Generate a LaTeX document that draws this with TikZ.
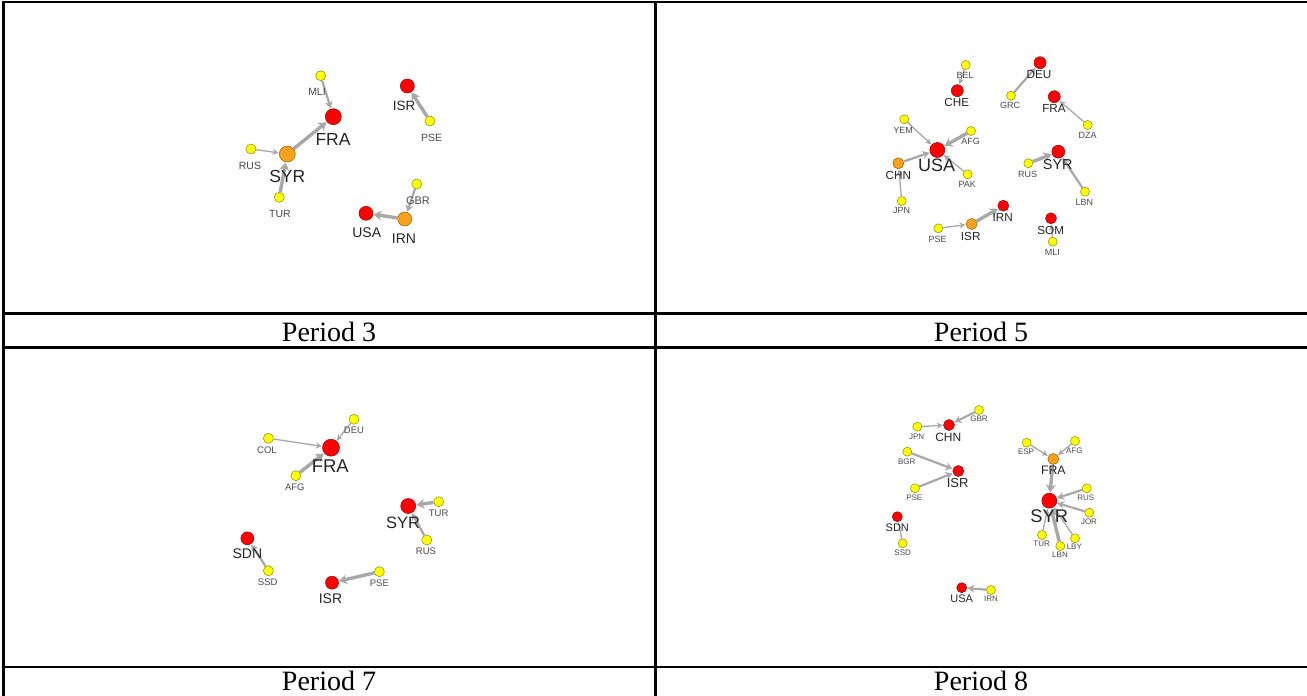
\documentclass[tikz,border=0pt]{standalone}
\usepackage{fontspec}
\setmainfont{Liberation Serif}
\newfontfamily\labfont{Liberation Sans}
\usetikzlibrary{arrows.meta}
\definecolor{nred}{HTML}{FF0000}
\definecolor{nredb}{HTML}{A00000}
\definecolor{nora}{HTML}{F7A11C}
\definecolor{norab}{HTML}{A06000}
\definecolor{nyel}{HTML}{FFFF00}
\definecolor{nyelb}{HTML}{8A8A00}
\definecolor{edg}{HTML}{A8A8A8}
\definecolor{labc}{HTML}{262626}
\definecolor{labs}{HTML}{4A4A4A}
\tikzset{
  nd/.style={circle,inner sep=0pt,line width=0.5pt},
  rd/.style={nd,fill=nred,draw=nredb,minimum size=#1},
  od/.style={nd,fill=nora,draw=norab,minimum size=#1},
  yd/.style={nd,fill=nyel,draw=nyelb,minimum size=#1},
  lab/.style={inner sep=0pt,text=labc,font={\labfont\fontsize{#1}{#1}\selectfont}},
  labsm/.style={inner sep=0pt,text=labs,font={\labfont\fontsize{#1}{#1}\selectfont}},
  ethin/.style={draw=edg,line width=1.3pt,-{Stealth[length=6pt,width=6pt]},shorten >=0.5pt},
  emid/.style={draw=edg,line width=2.2pt,-{Stealth[length=7pt,width=8pt]},shorten >=0.5pt},
  ethick/.style={draw=edg,line width=3.4pt,-{Stealth[length=8pt,width=10pt]},shorten >=0.5pt},
  tabline/.style={line width=2.2pt,black},
  captext/.style={anchor=base,inner sep=0pt,font={\fontsize{28}{28}\selectfont}}
}
\begin{document}
\begin{tikzpicture}[x=1pt,y=-1pt]
\useasboundingbox (0,0) rectangle (1307,696);
\fill[white] (0,0) rectangle (1307,696);
% table
\draw[tabline] (3.5,2) -- (1310,2);
\draw[tabline] (3.5,313.5) -- (1310,313.5);
\draw[tabline] (3.5,347.5) -- (1310,347.5);
\draw[tabline] (3.5,667) -- (1310,667);
\draw[tabline] (3.5,1) -- (3.5,700);
\draw[tabline] (655.5,1) -- (655.5,700);
\node[captext] (c3) at (329,341.5) {Period 3};
\node[captext] (c5) at (981,341.5) {Period 5};
\node[captext] (c7) at (329,690) {Period 7};
\node[captext] (c8) at (981,690) {Period 8};

% ---------- Period 3 ----------
\node[yd=10pt] (aMLI) at (320.7,75.7) {};
\node[rd=16pt] (aFRA) at (333.3,116.7) {};
\node[rd=14pt] (aISR) at (407.3,86) {};
\node[yd=10pt] (aPSE) at (430,121) {};
\node[yd=10pt] (aRUS) at (251,149) {};
\node[od=16pt] (aSYR) at (287.3,154) {};
\node[yd=10pt] (aTUR) at (279.3,197.3) {};
\node[yd=10pt] (aGBR) at (416.7,184) {};
\node[od=14pt] (aIRN) at (404.7,219) {};
\node[rd=14pt] (aUSA) at (366,213.3) {};
\draw[emid] (aMLI) -- (aFRA);
\draw[ethick] (aSYR) -- (aFRA);
\draw[ethin] (aRUS) -- (aSYR);
\draw[ethick] (aTUR) -- (aSYR);
\draw[ethick] (aPSE) -- (aISR);
\draw[emid] (aGBR) -- (aIRN);
\draw[ethick] (aIRN) -- (aUSA);
\node[labsm=10.5] (aMLIt) at (317,91.7) {MLI};
\node[lab=17.5] (aFRAt) at (333,139) {FRA};
\node[lab=13.5] (aISRt) at (404,106) {ISR};
\node[labsm=10.5] (aPSEt) at (431.7,138) {PSE};
\node[labsm=10.5] (aRUSt) at (250,166) {RUS};
\node[lab=17.5] (aSYRt) at (287.3,176) {SYR};
\node[labsm=10.5] (aTURt) at (280,214) {TUR};
\node[labsm=11] (aGBRt) at (418,201) {GBR};
\node[lab=14] (aIRNt) at (404,239) {IRN};
\node[lab=14] (aUSAt) at (366.7,233) {USA};

% ---------- Period 5 ----------
\node[yd=9pt] (bBEL) at (965.7,65) {};
\node[rd=12pt] (bCHE) at (957.3,90.7) {};
\node[rd=12pt] (bDEU) at (1040,62.7) {};
\node[yd=9pt] (bGRC) at (1011,95.7) {};
\node[rd=12pt] (bFRA) at (1054.3,96.7) {};
\node[yd=9pt] (bDZA) at (1087.7,125) {};
\node[yd=9pt] (bYEM) at (904.3,119.3) {};
\node[yd=9pt] (bAFG) at (971,131) {};
\node[rd=15pt] (bUSA) at (937.3,150) {};
\node[od=11pt] (bCHN) at (898.3,163.3) {};
\node[yd=9pt] (bPAK) at (967.7,174.3) {};
\node[yd=9pt] (bJPN) at (901.7,201) {};
\node[yd=9pt] (bRUS) at (1028.3,163.3) {};
\node[rd=13pt] (bSYR) at (1058.3,151.7) {};
\node[yd=9pt] (bLBN) at (1085,191.7) {};
\node[rd=11pt] (bIRN) at (1003.3,205.7) {};
\node[od=11pt] (bISR) at (971.7,224) {};
\node[yd=9pt] (bPSE) at (938.3,228.3) {};
\node[rd=11pt] (bSOM) at (1051,218.3) {};
\node[yd=9pt] (bMLI) at (1052.7,241.7) {};
\draw[ethin] (bBEL) -- (bCHE);
\draw[emid] (bGRC) -- (bDEU);
\draw[ethin] (bDZA) -- (bFRA);
\draw[ethin] (bYEM) -- (bUSA);
\draw[ethick] (bAFG) -- (bUSA);
\draw[emid] (bCHN) -- (bUSA);
\draw[ethin] (bPAK) -- (bUSA);
\draw[ethin] (bJPN) -- (bCHN);
\draw[ethick] (bRUS) -- (bSYR);
\draw[emid] (bLBN) -- (bSYR);
\draw[ethin] (bPSE) -- (bISR);
\draw[ethick] (bISR) -- (bIRN);
\draw[ethin] (bMLI) -- (bSOM);
\node[labsm=9] (bBELt) at (965,75) {BEL};
\node[lab=11.7] (bCHEt) at (956.7,102.7) {CHE};
\node[lab=11.7] (bDEUt) at (1039,75) {DEU};
\node[labsm=9] (bGRCt) at (1010,105.7) {GRC};
\node[lab=11.7] (bFRAt) at (1054,108) {FRA};
\node[labsm=9] (bDZAt) at (1087.7,135) {DZA};
\node[labsm=9] (bYEMt) at (903,130) {YEM};
\node[labsm=9] (bAFGt) at (970.7,141.7) {AFG};
\node[lab=18] (bUSAt) at (936.7,165.7) {USA};
\node[lab=11.7] (bCHNt) at (898.3,175) {CHN};
\node[labsm=9] (bPAKt) at (967.3,184.3) {PAK};
\node[labsm=9] (bJPNt) at (901.7,210.7) {JPN};
\node[labsm=9] (bRUSt) at (1027.7,174.3) {RUS};
\node[lab=14.4] (bSYRt) at (1057.7,165) {SYR};
\node[labsm=9] (bLBNt) at (1084.3,202.3) {LBN};
\node[lab=11.7] (bIRNt) at (1002.7,217.3) {IRN};
\node[lab=11.7] (bISRt) at (970.7,236) {ISR};
\node[labsm=9] (bPSEt) at (937.7,239) {PSE};
\node[lab=11.7] (bSOMt) at (1050.7,230) {SOM};
\node[labsm=9] (bMLIt) at (1052.3,252.3) {MLI};

% ---------- Period 7 ----------
\node[yd=10pt] (cDEU) at (354,419.3) {};
\node[yd=10pt] (cCOL) at (268.4,438.3) {};
\node[rd=17pt] (cFRA) at (331,447.7) {};
\node[yd=10pt] (cAFG) at (295.8,475.7) {};
\node[rd=15pt] (cSYR) at (408.2,506) {};
\node[yd=10pt] (cTUR) at (438.7,501.7) {};
\node[yd=10pt] (cRUS) at (426.8,540) {};
\node[rd=13pt] (cSDN) at (247.4,538.3) {};
\node[yd=10pt] (cSSD) at (268.4,570.7) {};
\node[rd=13pt] (cISR) at (332,582.7) {};
\node[yd=10pt] (cPSE) at (379.4,571.7) {};
\draw[ethin] (cCOL) -- (cFRA);
\draw[ethin] (cDEU) -- (cFRA);
\draw[ethick] (cAFG) -- (cFRA);
\draw[ethick] (cTUR) -- (cSYR);
\draw[emid] (cRUS) -- (cSYR);
\draw[emid] (cSSD) -- (cSDN);
\draw[ethick] (cPSE) -- (cISR);
\node[labsm=9.5] (cDEUt) at (354,430.7) {DEU};
\node[labsm=9.5] (cCOLt) at (267,450.7) {COL};
\node[lab=18.5] (cFRAt) at (330.3,465.7) {FRA};
\node[labsm=9.5] (cAFGt) at (294.8,487.7) {AFG};
\node[lab=16.5] (cSYRt) at (403,522.7) {SYR};
\node[labsm=9.5] (cTURt) at (438.7,513.3) {TUR};
\node[labsm=9.5] (cRUSt) at (426,551.7) {RUS};
\node[lab=14] (cSDNt) at (247.4,554) {SDN};
\node[labsm=9.5] (cSSDt) at (267.7,582.3) {SSD};
\node[lab=14] (cISRt) at (330.5,599) {ISR};
\node[labsm=9.5] (cPSEt) at (379.4,583.3) {PSE};

% ---------- Period 8 ----------
\node[yd=9pt] (dGBR) at (979,410) {};
\node[yd=9pt] (dJPN) at (917.3,426.7) {};
\node[rd=11pt] (dCHN) at (949,425) {};
\node[yd=9pt] (dBGR) at (907.3,451.7) {};
\node[rd=11pt] (dISR) at (958.3,471) {};
\node[yd=9pt] (dPSE) at (915,488.3) {};
\node[rd=10pt] (dSDN) at (897.3,516.7) {};
\node[yd=9pt] (dSSD) at (902.7,543.3) {};
\node[yd=9pt] (dESP) at (1026.7,442.7) {};
\node[yd=9pt] (dAFG) at (1075,441) {};
\node[od=11pt] (dFRA) at (1053.3,459) {};
\node[rd=15pt] (dSYR) at (1049.3,500.7) {};
\node[yd=9pt] (dRUS) at (1086.7,488.3) {};
\node[yd=9pt] (dJOR) at (1089.3,512.7) {};
\node[yd=9pt] (dTUR) at (1042,535) {};
\node[yd=9pt] (dLBN) at (1060.3,546) {};
\node[yd=9pt] (dLBY) at (1075,538.3) {};
\node[rd=10pt] (dUSA) at (961.7,587.7) {};
\node[yd=9pt] (dIRN) at (991,590) {};
\draw[emid] (dGBR) -- (dCHN);
\draw[ethin] (dJPN) -- (dCHN);
\draw[emid] (dBGR) -- (dISR);
\draw[emid] (dPSE) -- (dISR);
\draw[draw=edg,line width=1.3pt] (dSSD) -- (dSDN);
\draw[ethin] (dESP) -- (dFRA);
\draw[ethin] (dAFG) -- (dFRA);
\draw[ethick] (dFRA) -- (dSYR);
\draw[emid] (dRUS) -- (dSYR);
\draw[emid] (dJOR) -- (dSYR);
\draw[ethin] (dTUR) -- (dSYR);
\draw[ethick] (dLBN) -- (dSYR);
\draw[ethin] (dLBY) -- (dSYR);
\draw[emid] (dIRN) -- (dUSA);
\node[labsm=8] (dGBRt) at (979,419) {GBR};
\node[labsm=8] (dJPNt) at (916.7,436.7) {JPN};
\node[lab=12] (dCHNt) at (948.3,437.3) {CHN};
\node[labsm=8] (dBGRt) at (906.7,461.7) {BGR};
\node[lab=13] (dISRt) at (957.7,482.7) {ISR};
\node[labsm=8] (dPSEt) at (914.3,497.7) {PSE};
\node[lab=11] (dSDNt) at (897.3,527.3) {SDN};
\node[labsm=8] (dSSDt) at (902.7,552.7) {SSD};
\node[labsm=8] (dESPt) at (1026,452) {ESP};
\node[labsm=8] (dAFGt) at (1074.3,450.3) {AFG};
\node[lab=12.3] (dFRAt) at (1053.3,470.7) {FRA};
\node[lab=18.3] (dSYRt) at (1049.3,516) {SYR};
\node[labsm=8] (dRUSt) at (1085.7,497.3) {RUS};
\node[labsm=8] (dJORt) at (1089,521.7) {JOR};
\node[labsm=8] (dTURt) at (1041.7,544) {TUR};
\node[labsm=8] (dLBNt) at (1060,555) {LBN};
\node[labsm=8] (dLBYt) at (1074.3,546.7) {LBY};
\node[lab=11] (dUSAt) at (961.7,598.3) {USA};
\node[labsm=8] (dIRNt) at (991,599) {IRN};
\end{tikzpicture}
\end{document}
